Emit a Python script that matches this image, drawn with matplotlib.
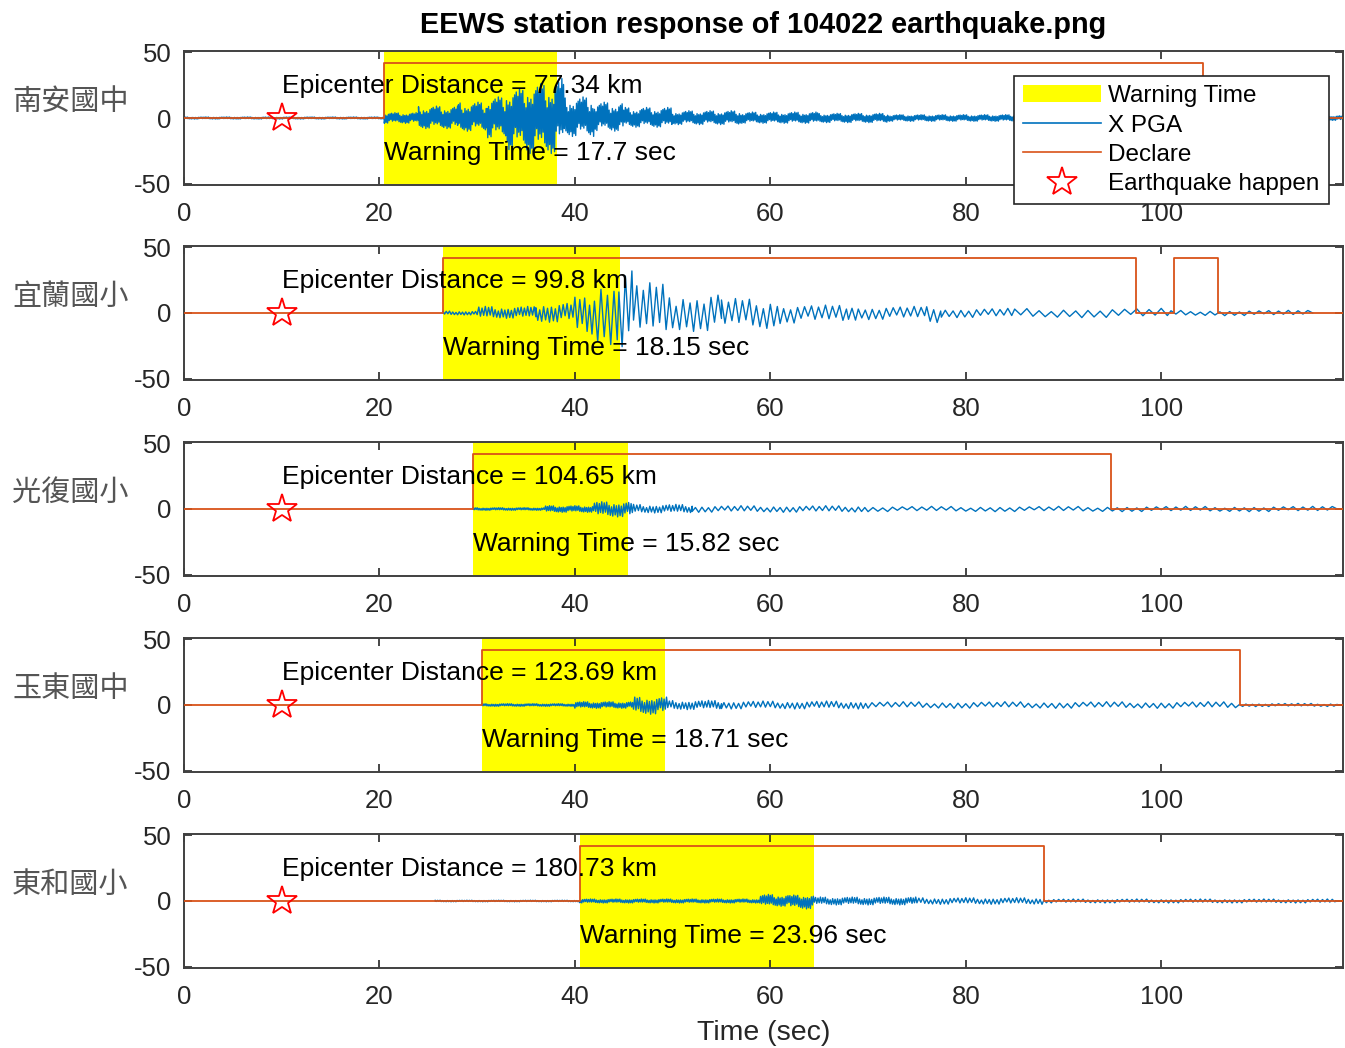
import matplotlib
matplotlib.use("Agg")
import matplotlib.pyplot as plt
from matplotlib.patches import Patch
from matplotlib.lines import Line2D

plt.rcParams["axes.unicode_minus"] = False

# ---------------- data ----------------
stations = ["南安國中", "宜蘭國小", "光復國小", "玉東國中", "東和國小"]
distances = [77.34, 99.8, 104.65, 123.69, 180.73]
warn_start = [20.5, 26.5, 29.6, 30.5, 40.5]
warn_time = [17.7, 18.15, 15.82, 18.71, 23.96]
declare_windows = [
    [(20.5, 104.3)],
    [(26.5, 97.4), (101.3, 105.8)],
    [(29.6, 94.9)],
    [(30.5, 108.1)],
    [(40.5, 88.0)],
]
declare_level = 42
quake_time = 10.0
x_end = 118.6

# waveform envelopes (segment start times, upper / lower peak, half-cycles per second)
s1_t = [0, 20.5, 24, 28, 31, 33, 35, 38, 39, 42, 45, 50, 57, 65, 72, 85, 100]
s1_up = [0.8, 4, 9, 12, 16, 22, 26, 30, 16, 12, 8, 5.5, 4.5, 3.5, 2.5, 2.0, 1.8]
s1_dn = [0.8, 4, 8, 10, 15, 24, 27, 20, 14, 10, 7, 5, 4, 3.5, 2.5, 2.0, 1.8]
s1_rate = [12] * 17
s1_end = 118.6

s2_t = [26.5, 30, 36, 40, 42, 44.5, 46, 50, 55, 61, 68, 69, 76, 77.5, 85, 101]
s2_up = [1.5, 5, 8, 12, 30, 40, 23, 17, 11, 6, 12, 5, 5, 3.5, 3.5, 2.0]
s2_dn = [1.5, 4, 7, 20, 24, 27, 18, 14, 13, 8, 6, 5, 9, 3.5, 3.5, 2.0]
s2_rate = [6, 6, 5, 4, 3, 3, 3, 2.8, 2.8, 2.8, 2.8, 2.8, 2.8, 2.5, 1.6, 2]
s2_end = 115.5

s3_t = [29.6, 37, 42, 46, 52, 70]
s3_up = [1, 2.5, 5.5, 3.5, 2.5, 2]
s3_dn = [1, 2.5, 6, 3, 2.5, 2]
s3_rate = [10, 10, 8, 6, 3, 2]
s3_end = 118.0

s4_t = [30.5, 40, 46, 49.5, 55, 70, 108]
s4_up = [1, 2.5, 6, 3.5, 3, 2.5, 1.2]
s4_dn = [1, 2.5, 7, 3.5, 3, 2.5, 1.2]
s4_rate = [10, 10, 8, 6, 4, 2.5, 3]
s4_end = 118.0

s5_t = [25.7, 40.5, 59, 62, 64.5, 75, 88]
s5_up = [0.6, 1.5, 5, 4.5, 3, 2.5, 1.5]
s5_dn = [0.6, 1.5, 4, 6, 3, 2.5, 1.5]
s5_rate = [8, 10, 10, 10, 8, 5, 4]
s5_end = 118.0

# ---------------- style ----------------
BLUE = "#0072BD"
ORANGE = "#D95319"
AXC = "#262626"
PATTERN = [1.0, 0.55, 0.85, 0.4, 0.95, 0.7, 0.5, 0.8, 0.3, 0.9, 0.6, 0.75, 0.45]
TXT = "Liberation Sans"
CJK = "Noto Sans CJK TC"

W, H = 1345, 1048
fig = plt.figure(figsize=(W / 100, H / 100), dpi=100)


def build_trace(seg_t, up, dn, rate, t_end):
    ts, ys = [seg_t[0]], [0.0]
    bounds = list(seg_t[1:]) + [t_end]
    k = 0
    for i in range(len(seg_t)):
        t = seg_t[i]
        step = 1.0 / rate[i]
        while t < bounds[i]:
            amp = up[i] if k % 2 == 0 else -dn[i]
            ts.append(t)
            ys.append(amp * PATTERN[k % len(PATTERN)])
            t += step
            k += 1
    ts.append(t_end)
    ys.append(0.0)
    return ts, ys


def declare_line(windows):
    xs, ys = [0.0], [0.0]
    for on, off in windows:
        xs += [on, on, off, off]
        ys += [0, declare_level, declare_level, 0]
    xs.append(x_end)
    ys.append(0.0)
    return xs, ys


traces = [
    (s1_t, s1_up, s1_dn, s1_rate, s1_end),
    (s2_t, s2_up, s2_dn, s2_rate, s2_end),
    (s3_t, s3_up, s3_dn, s3_rate, s3_end),
    (s4_t, s4_up, s4_dn, s4_rate, s4_end),
    (s5_t, s5_up, s5_dn, s5_rate, s5_end),
]

ax_top_px = [51, 246, 442, 638, 834]
ax_h_px = 134
left_px, right_px = 184, 1343

for i in range(5):
    top = ax_top_px[i]
    ax = fig.add_axes([left_px / W, 1 - (top + ax_h_px) / H,
                       (right_px - left_px) / W, ax_h_px / H])
    ax.set_xlim(0, x_end)
    ax.set_ylim(-51, 51)
    ax.axvspan(warn_start[i], warn_start[i] + warn_time[i], color="#FFFF00", lw=0, zorder=0)
    tx, ty = build_trace(*traces[i])
    ax.plot(tx, ty, color=BLUE, lw=1.0, zorder=2)
    dx, dy = declare_line(declare_windows[i])
    ax.plot(dx, dy, color=ORANGE, lw=1.3, zorder=3)
    ax.plot([quake_time], [0], marker="*", ms=22, mfc="none", mec="red", mew=1.3,
            ls="none", zorder=4)
    ax.text(quake_time, 24, f"Epicenter Distance = {distances[i]:g} km",
            fontsize=19, family=TXT, color="black", ha="left", va="center", zorder=5)
    ax.text(warn_start[i], -27, f"Warning Time = {warn_time[i]:g} sec",
            fontsize=19, family=TXT, color="black", ha="left", va="center", zorder=5)
    ax.set_xticks([0, 20, 40, 60, 80, 100])
    ax.set_yticks([-50, 0, 50])
    ax.tick_params(direction="in", top=True, right=True, length=6, width=1.2,
                   labelsize=18.5, colors=AXC)
    ax.tick_params(axis="x", pad=12)
    ax.tick_params(axis="y", pad=9)
    for lab in ax.get_xticklabels() + ax.get_yticklabels():
        lab.set_family(TXT)
    for sp in ax.spines.values():
        sp.set_color("#404040")
        sp.set_linewidth(1.4)
    zero_px = top + ax_h_px / 2
    fig.text(12 / W, 1 - (zero_px - 16) / H, stations[i], fontsize=21,
             family=CJK, color="#555555", ha="left", va="center")
    if i == 4:
        ax.set_xlabel("Time (sec)", fontsize=20.5, family=TXT, color=AXC, labelpad=8)

fig.text((left_px + right_px) / 2 / W, 1 - 25 / H,
         "EEWS station response of 104022 earthquake.png",
         fontsize=20.8, family=TXT, weight="bold", ha="center", va="center", color="black")

handles = [
    Patch(facecolor="#FFFF00", edgecolor="none"),
    Line2D([], [], color=BLUE, lw=1.2),
    Line2D([], [], color=ORANGE, lw=1.2),
    Line2D([], [], marker="*", ms=22, mfc="none", mec="red", mew=1.3, ls="none"),
]
labels = ["Warning Time", "X PGA", "Declare", "Earthquake happen"]
leg = fig.legend(handles, labels, loc="upper left",
                 bbox_to_anchor=(1014 / W, 1 - 76 / H),
                 prop={"family": TXT, "size": 17.5}, frameon=True, fancybox=False,
                 edgecolor=AXC, framealpha=1, handlelength=3.2, handletextpad=0.3,
                 labelspacing=0.3, borderpad=0.38, borderaxespad=0)
leg.get_frame().set_linewidth(1.2)
leg.set_zorder(10)

fig.savefig("out.png", dpi=100)
